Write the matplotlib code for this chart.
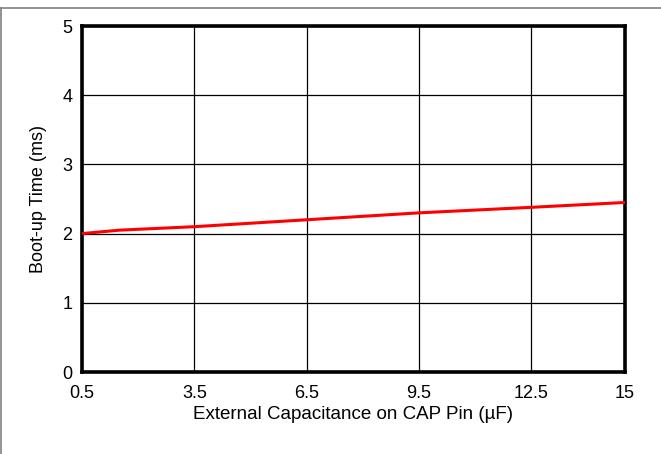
import numpy as np
import matplotlib
matplotlib.use("Agg")
import matplotlib.pyplot as plt
from matplotlib.lines import Line2D

plt.rcParams['font.family'] = ['Liberation Sans', 'DejaVu Sans']

# boot-up time vs external capacitance
cap_uf = [0.5, 1.5, 3.5, 5.0, 6.5, 9.5, 12.5, 15.0]
boot_ms = [2.0, 2.05, 2.1, 2.15, 2.2, 2.3, 2.38, 2.45]

x_ticks = [0.5, 3.5, 6.5, 9.5, 12.5, 15]
x_tick_labels = ['0.5', '3.5', '6.5', '9.5', '12.5', '15']
y_ticks = [0, 1, 2, 3, 4, 5]

fig = plt.figure(figsize=(6.61, 4.54), dpi=100)
ax = fig.add_axes([0.124, 0.1806, 0.8215, 0.7621])

ax.plot(cap_uf, boot_ms, color='#ff0000', lw=2.2, zorder=3)

ax.set_xlim(0.5, 15)
ax.set_ylim(0, 5)
ax.set_xticks(x_ticks)
ax.set_xticklabels(x_tick_labels)
ax.set_yticks(y_ticks)
ax.grid(True, color='black', lw=0.9)
ax.tick_params(length=0, labelsize=13)
ax.tick_params(axis='x', pad=9)
ax.tick_params(axis='y', pad=7)
for s in ax.spines.values():
    s.set_linewidth(2.6)

ax.set_xlabel('External Capacitance on CAP Pin (µF)', fontsize=13.5, labelpad=3)
ax.set_ylabel('Boot-up Time (ms)', fontsize=13, labelpad=11)

# outer frame of the figure (top and left edges)
fig.add_artist(Line2D([0, 1], [1 - 8 / 454, 1 - 8 / 454], transform=fig.transFigure,
                      color='#808080', lw=1.2))
fig.add_artist(Line2D([0.5 / 661, 0.5 / 661], [0, 1 - 8 / 454], transform=fig.transFigure,
                      color='#808080', lw=1.2))

fig.savefig('out.png', dpi=100)
